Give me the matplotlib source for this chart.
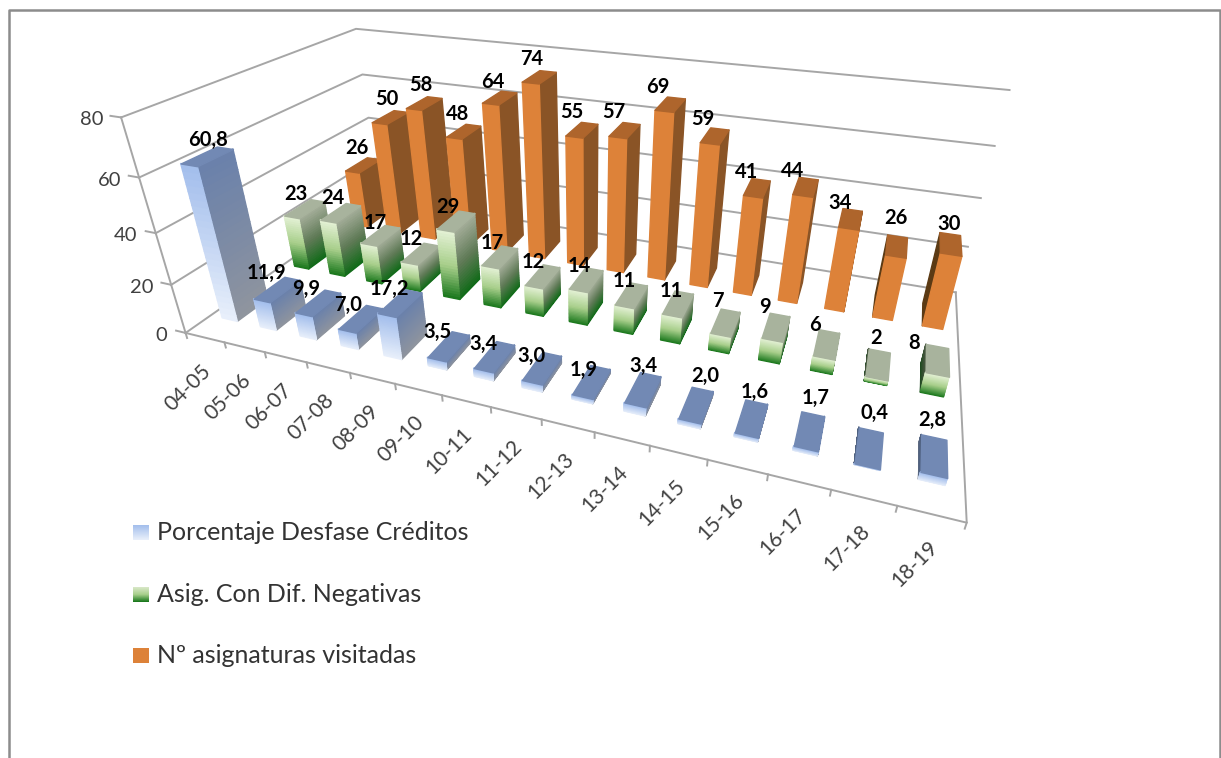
import numpy as np
import matplotlib
matplotlib.use('Agg')
import matplotlib.pyplot as plt
from matplotlib.colors import LinearSegmentedColormap
from mpl_toolkits.mplot3d import proj3d
from mpl_toolkits.mplot3d.art3d import Poly3DCollection

plt.rcParams['font.family'] = ['Lato', 'DejaVu Sans']

cursos = ['04-05', '05-06', '06-07', '07-08', '08-09', '09-10', '10-11', '11-12',
          '12-13', '13-14', '14-15', '15-16', '16-17', '17-18', '18-19']
desfase = [60.8, 11.9, 9.9, 7.0, 17.2, 3.5, 3.4, 3.0, 1.9, 3.4, 2.0, 1.6, 1.7, 0.4, 2.8]
negativas = [23, 24, 17, 12, 29, 17, 12, 14, 11, 11, 7, 9, 6, 2, 8]
visitadas = [26, 50, 58, 48, 64, 74, 55, 57, 69, 59, 41, 44, 34, 26, 30]
z_ticks = [0, 20, 40, 60, 80]

# ajuste fino de las etiquetas de datos, en pixeles
off_desfase = [(2, 1), (-10, 1), (-11, -1), (-12, -1), (-10, -1), (-11, -1), (-11, -3), (-10, -3),
               (-8, -3), (0, 8), (9, 14), (3, 11), (5, 18), (4, 19), (-3, 20)]
off_negativas = [(-8, 0), (-7, 0), (-5, -2), (-8, 0), (-8, -1), (-7, -1), (-9, -1), (-7, -1),
                 (-7, -1), (-7, -2), (-8, 6), (-12, 5), (-12, 4), (-3, 11), (-24, 2)]
off_visitadas = [(-5, 3), (-3, 3), (-3, 3), (-5, 2), (-6, 1), (-7, 2), (-10, 3), (-11, 3),
                 (-12, 2), (-12, 1), (-11, 1), (-13, 0), (-11, 1), (-1, 13), (-2, 5)]

W, H = 1221, 758
fig = plt.figure(figsize=(W / 100, H / 100), dpi=100)

# vista ajustada a las esquinas de la caja del grafico original
S, LEFT, TOP = 1500.3, -183.1, -446.9
ax = fig.add_axes([LEFT / W, 1 - (TOP + S) / H, S / W, S / H], projection='3d')
ax.set_proj_type('persp', focal_length=0.1)
ax.set_xlim(0.027, 15.027)
ax.set_ylim(0, 3)
ax.set_zlim(-27.421, 52.579)  # desplazado para centrar la camara, no recorta nada
ax.view_init(elev=30.18, azim=-69.765, roll=0.02)
ax.set_box_aspect((1, 0.4842, 0.3076), zoom=0.53)
ax.set_axis_off()
ax.computed_zorder = False
M = ax.get_proj()

grid = '#A6A6A6'
texto = '#404040'

def line3(xs, ys, zs):
    ax.plot(xs, ys, zs, color=grid, lw=1.4, zorder=1)

def rotulo(x, y, z, s, dx, dy, **kw):
    px, py, _ = proj3d.proj_transform(x, y, z, M)
    ax.annotate(s, xy=(px, py), xycoords='data', xytext=(dx, dy), textcoords='offset pixels',
                annotation_clip=False, **kw)

for zt in z_ticks:
    line3([0, 0, 15], [0, 3, 3], [zt, zt, zt])
    line3([0, -0.25], [0, 0.0], [zt, zt])
    rotulo(0, 0, zt, str(zt), -18, -2.5, color=texto, fontsize=14.5, ha='right', va='center', zorder=500)
line3([0, 0], [0, 0], [0, 80])
line3([0, 15, 15], [0, 0, 3], [0, 0, 0])
for i in range(16):
    line3([i, i], [0, 0], [0, -2.2])
for i, c in enumerate(cursos):
    rotulo(i + 0.5, 0, 0, c, 3, -30, color=texto, fontsize=15, rotation=45, ha='right', va='center',
           rotation_mode='anchor', zorder=500)

def ramp(cols):
    return LinearSegmentedColormap.from_list('r', cols)

estilo = {
    'blue': dict(front=ramp(['#A3BEEC', '#E9F0FB']), side=ramp(['#6A81AB', '#90959E']),
                 inner=ramp(['#4F6180', '#5F6B80']), top='#7289B4', n=24),
    'green': dict(front=ramp(['#E4F1D5', '#A8CF8B', '#17761A']), side=ramp(['#A4AD99', '#5F7A56', '#0E6A16']),
                  inner=ramp(['#46553F', '#1C4A1E']), top='#A8B39D', n=24),
    'orange': dict(front=ramp(['#DD8239', '#DD8239']), side=ramp(['#8A5426', '#8A5426']),
                   inner=ramp(['#5B3A14', '#5B3A14']), top='#AE652C', n=1),
}
CAM_X = 13.0
ANCHO, FONDO = 0.4, 0.4
orden = 10

def add_face(verts, colors):
    global orden
    orden += 1
    pc = Poly3DCollection(verts, facecolors=colors, edgecolors=colors, linewidths=1.0)
    pc.set_zorder(orden)
    ax.add_collection3d(pc, autolim=False)

def bar(xc, yc, h, st):
    x0, x1, y0, y1 = xc - ANCHO / 2, xc + ANCHO / 2, yc - FONDO / 2, yc + FONDO / 2
    zs = np.linspace(0, h, st['n'] + 1)
    t = 1 - (zs[:-1] + zs[1:]) / 2 / h
    def side(xs, cmap):
        add_face([[(xs, y0, a), (xs, y1, a), (xs, y1, b), (xs, y0, b)] for a, b in zip(zs[:-1], zs[1:])],
                 [cmap(v) for v in t])
    if xc < CAM_X:
        side(x1, st['side'])
    else:
        side(x0, st['inner'])
    add_face([[(x0, y0, a), (x1, y0, a), (x1, y0, b), (x0, y0, b)] for a, b in zip(zs[:-1], zs[1:])],
             [st['front'](v) for v in t])
    add_face([[(x0, y0, h), (x1, y0, h), (x1, y1, h), (x0, y1, h)]], [st['top']])

filas = [(2.5, visitadas, off_visitadas, 'orange', '{:.0f}'),
         (1.5, negativas, off_negativas, 'green', '{:.0f}'),
         (0.5, desfase, off_desfase, 'blue', '{:.1f}')]
for yc, vals, offs, nombre, fmt in filas:
    for i in sorted(range(15), key=lambda k: -abs(k + 0.5 - CAM_X)):
        bar(i + 0.5, yc, vals[i], estilo[nombre])
    for i, v in enumerate(vals):
        rotulo(i + 0.5, yc, v + 2, fmt.format(v).replace('.', ','), offs[i][0], offs[i][1], fontsize=14.5,
               fontweight='bold', color='black', ha='center', va='bottom', zorder=600)

# leyenda y borde en pixeles
ov = fig.add_axes([0, 0, 1, 1], zorder=10)
ov.patch.set_alpha(0)
ov.axis('off')
ley = [('Porcentaje Desfase Créditos', ['#A3BEEC', '#E9F0FB'], 525),
       ('Asig. Con Dif. Negativas', ['#D9E8C8', '#A8CF8B', '#17761A'], 587),
       ('Nº asignaturas visitadas', ['#DD8239', '#DD8239'], 648)]
grad = np.linspace(0, 1, 32).reshape(-1, 1)
for txt, cols, ytop in ley:
    ov.imshow(grad, cmap=ramp(cols), extent=(133, 149, ytop + 15, ytop), aspect='auto')
    ov.text(157, ytop + 7.5, txt, fontsize=18, color='#333333', va='center', ha='left')
ov.plot([8.5, 8.5, 1219.5, 1219.5], [758, 10, 10, 758], color='#8C8C8C', lw=1.8)
ov.set_xlim(0, W)
ov.set_ylim(H, 0)

fig.savefig('out.png', dpi=100)
